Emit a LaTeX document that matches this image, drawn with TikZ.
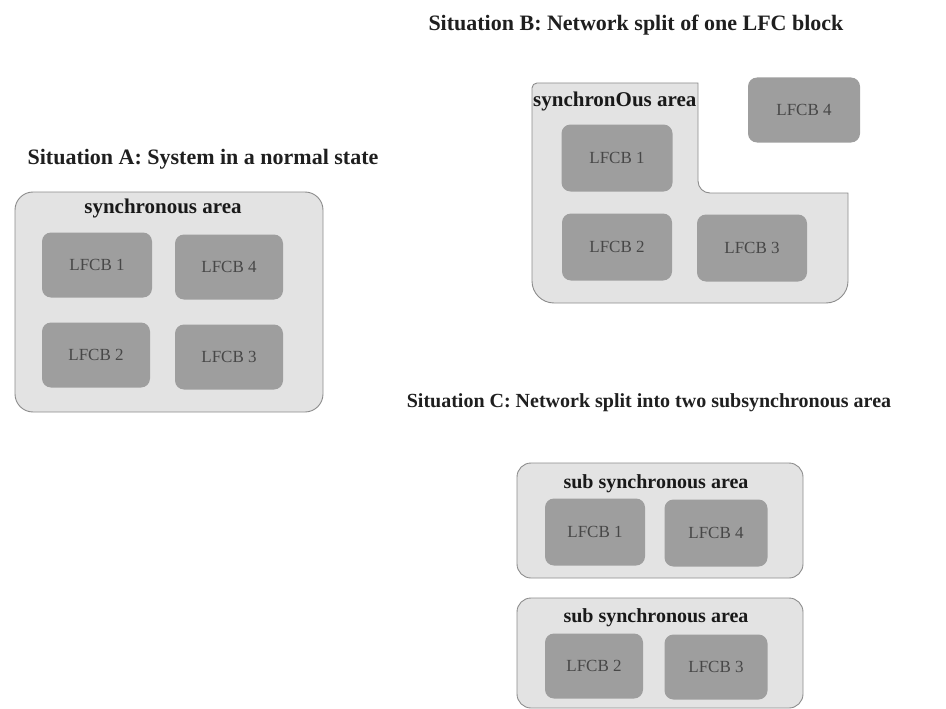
\documentclass[tikz,border=0pt]{standalone}
\usepackage{fontspec}
\setmainfont{Liberation Serif}
\begin{document}
\begin{tikzpicture}[x=1pt,y=-1pt,
  outerbox/.style={draw=black!45,line width=0.9pt,fill=black!11},
  lfcb/.style={fill=black!38,rounded corners=9pt,inner sep=0pt,font=\fontsize{17}{19}\selectfont,text=black!72},
  title/.style={font=\bfseries\fontsize{22}{25}\selectfont,text=black!88,inner sep=0pt},
  area/.style={font=\bfseries\fontsize{21}{24}\selectfont,text=black!90,inner sep=0pt}]
\useasboundingbox (0,0) rectangle (946,709);
% ---------- Situation A
\node[title] (tA) at (203,159) {Situation A: System in a normal state};
\draw[outerbox,rounded corners=18pt] (15,192) rectangle (323,412);
\node[area] (aA) at (163,208) {synchronous area};
\node[lfcb,minimum width=110pt,minimum height=65pt] (a1) at (97,265) {LFCB 1};
\node[lfcb,minimum width=108pt,minimum height=65pt] (a4) at (229,267) {LFCB 4};
\node[lfcb,minimum width=108pt,minimum height=65pt] (a2) at (96,355) {LFCB 2};
\node[lfcb,minimum width=108pt,minimum height=65pt] (a3) at (229,357) {LFCB 3};
% ---------- Situation B
\node[title] (tB) at (636,25) {Situation B: Network split of one LFC block};
\draw[outerbox] (532,200) [rounded corners=5pt] -- (532,83) [sharp corners] -- (698,83) [rounded corners=12pt] -- (698,193) [sharp corners] -- (848,193) [rounded corners=22pt] -- (848,303) -- (532,303) [sharp corners] -- cycle;
\begin{scope}
\clip (530,80) rectangle (697,120);
\node[area,anchor=west] (aB) at (533,101) {synchronOus area};
\end{scope}
\node[lfcb,minimum width=112pt,minimum height=65pt] (b4) at (804,110) {LFCB 4};
\node[lfcb,minimum width=111pt,minimum height=67pt] (b1) at (617,158) {LFCB 1};
\node[lfcb,minimum width=110pt,minimum height=67pt] (b2) at (617,247) {LFCB 2};
\node[lfcb,minimum width=110pt,minimum height=67pt] (b3) at (752,248) {LFCB 3};
% ---------- Situation C
\node[title,font=\bfseries\fontsize{20}{23}\selectfont] (tC) at (649,403) {Situation C: Network split into two subsynchronous area};
\draw[outerbox,rounded corners=14pt] (517,463) rectangle (803,578);
\node[area,font=\bfseries\fontsize{20}{23}\selectfont] (aC1) at (656,484) {sub synchronous area};
\node[lfcb,minimum width=100pt,minimum height=67pt] (c1) at (595,532) {LFCB 1};
\node[lfcb,minimum width=103pt,minimum height=67pt] (c4) at (716,533) {LFCB 4};
\draw[outerbox,rounded corners=14pt] (517,598) rectangle (803,708);
\node[area,font=\bfseries\fontsize{20}{23}\selectfont] (aC2) at (656,618) {sub synchronous area};
\node[lfcb,minimum width=98pt,minimum height=65pt] (c2) at (594,666) {LFCB 2};
\node[lfcb,minimum width=103pt,minimum height=65pt] (c3) at (716,667) {LFCB 3};
\end{tikzpicture}
\end{document}
